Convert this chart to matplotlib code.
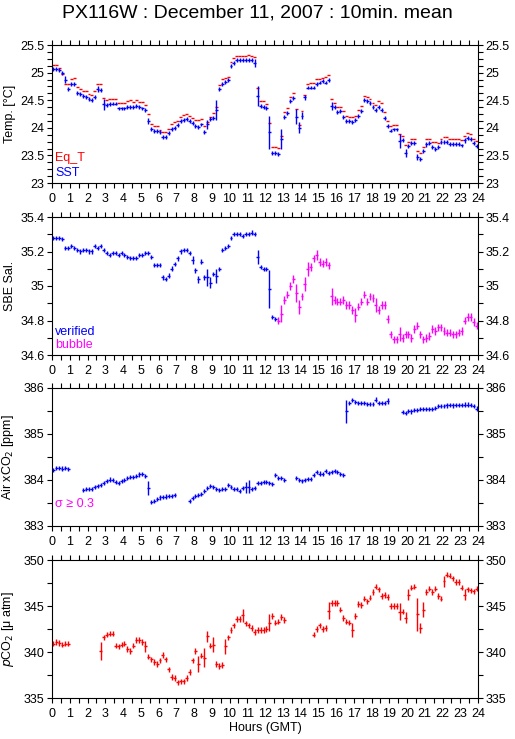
import numpy as np
import matplotlib.pyplot as plt
from matplotlib.ticker import MultipleLocator, FuncFormatter

plt.rcParams['font.family'] = ['Liberation Sans', 'DejaVu Sans']
plt.rcParams['axes.linewidth'] = 0.8

nan = np.nan

# 10-minute means, 6 values per hour (hh:00 .. hh:50)
sst = [
    25.06, 25.06, 25.04, 24.99, 24.87, 24.71,
    24.80, 24.80, 24.63, 24.62, 24.58, 24.56,
    24.52, 24.50, 24.56, 24.70, 24.68, 24.43,
    24.42, 24.43, 24.44, 24.44, 24.35, 24.35,
    24.35, 24.38, 24.38, 24.38, 24.40, 24.37,
    24.35, 24.32, 24.12, 23.98, 23.94, 23.94,
    23.93, 23.83, 23.83, 23.90, 23.98, 23.99,
    24.05, 24.12, 24.14, 24.16, 24.12, 24.08,
    24.04, 24.02, 24.06, 23.93, 24.06, 24.16,
    24.18, 24.33, 24.71, 24.80, 24.83, 24.86,
    25.12, 25.18, 25.23, 25.23, 25.23, 25.23,
    25.23, 25.23, 25.17, 24.58, 24.39, 24.38,
    24.36, 23.92, 23.55, 23.55, 23.53, 23.80,
    24.20, 24.27, 24.48, 24.54, 24.20, 24.00,
    24.22, 24.55, 24.73, 24.73, 24.73, 24.80,
    24.82, 24.85, 24.82, 24.87, 24.40, 24.37,
    24.28, 24.30, 24.20, 24.12, 24.12, 24.11,
    24.14, 24.22, 24.30, 24.50, 24.48, 24.45,
    24.38, 24.32, 24.38, 24.32, 24.18, 24.03,
    23.95, 23.97, 23.97, 23.76, 23.78, 23.55,
    23.67, 23.73, 23.73, 23.47, 23.44, 23.58,
    23.70, 23.73, 23.66, 23.62, 23.66, 23.74,
    23.75, 23.75, 23.71, 23.71, 23.71, 23.71,
    23.68, 23.77, 23.82, 23.80, 23.72, 23.67,
]
sst_err_big = {0.67: 0.06, 2.5: 0.06, 2.83: 0.1, 5.33: 0.06, 8.67: 0.08,
               9.17: 0.18, 11.33: 0.07, 11.5: 0.18, 12.17: 0.3, 12.83: 0.18,
               13.67: 0.14, 13.83: 0.1, 14.0: 0.06, 14.17: 0.05, 15.67: 0.07,
               19.5: 0.12, 19.83: 0.07, 20.5: 0.05, 21.0: 0.05, 23.17: 0.04}

eq_t = [
    25.14, 25.14, 25.09, 24.97, 24.80, 24.80,
    24.89, 24.90, 24.74, 24.71, 24.67, 24.67,
    24.62, 24.60, 24.66, 24.79, 24.79, 24.54,
    24.51, 24.52, 24.53, 24.52, 24.45, 24.45,
    24.45, 24.48, 24.50, 24.47, 24.50, 24.47,
    24.47, 24.42, 24.25, 24.07, 24.03, 24.03,
    23.96, 23.93, 23.92, 23.97, 24.07, 24.10,
    24.13, 24.20, 24.23, 24.25, 24.22, 24.17,
    24.14, 24.14, 24.16, 24.03, 24.10, 24.20,
    24.27, 24.37, 24.78, 24.88, 24.90, 24.92,
    25.19, 25.27, 25.30, 25.30, 25.30, 25.30,
    25.31, 25.30, 25.28, 24.72, 24.48, 24.48,
    24.43, 24.08, 23.66, 23.65, 23.63, 23.85,
    24.28, 24.35, 24.55, 24.63, 24.34, 24.05,
    24.30, 24.60, 24.80, 24.82, 24.82, 24.88,
    24.88, 24.90, 24.92, 24.95, 24.52, 24.45,
    24.37, 24.37, 24.30, 24.22, 24.20, 24.20,
    24.22, 24.32, 24.40, 24.57, 24.56, 24.53,
    24.45, 24.42, 24.48, 24.45, 24.28, 24.12,
    24.04, 24.05, 24.05, 23.88, 23.85, 23.68,
    23.74, 23.80, 23.80, 23.58, 23.54, 23.65,
    23.79, 23.80, 23.74, 23.74, 23.72, 23.80,
    23.83, 23.83, 23.80, 23.79, 23.79, 23.79,
    23.78, 23.85, 23.90, 23.88, 23.80, 23.76,
]

sal = [
    35.28, 35.28, 35.28, 35.27, 35.22, 35.22,
    35.23, 35.22, 35.21, 35.20, 35.21, 35.21,
    35.20, 35.20, 35.23, 35.22, 35.23, 35.21,
    35.19, 35.18, 35.19, 35.19, 35.18, 35.19,
    35.18, 35.17, 35.16, 35.16, 35.16, 35.18,
    35.18, 35.19, 35.19, 35.17, 35.12, 35.12,
    35.12, 35.05, 35.04, 35.06, 35.10, 35.13,
    35.16, 35.20, 35.21, 35.21, 35.19, 35.15,
    35.09, 35.04, 35.14, 35.05, 35.05, 35.02,
    35.07, 35.06, 35.10, 35.21, 35.22, 35.23,
    35.28, 35.30, 35.30, 35.30, 35.29, 35.30,
    35.30, 35.31, 35.30, 35.17, 35.11, 35.10,
    35.10, 34.98, 34.82, 34.81, 34.80, 34.84,
    34.92, 34.95, 35.00, 35.04, 34.96, 34.88,
    34.94, 35.01, 35.10, 35.11, 35.16, 35.18,
    35.14, 35.13, 35.14, 35.12, 34.94, 34.92,
    34.91, 34.91, 34.92, 34.89, 34.89, 34.86,
    34.83, 34.88, 34.91, 34.95, 34.91, 34.94,
    34.93, 34.89, 34.86, 34.89, 34.89, 34.81,
    34.72, 34.69, 34.69, 34.72, 34.70, 34.72,
    34.72, 34.70, 34.75, 34.77, 34.72, 34.69,
    34.70, 34.71, 34.75, 34.74, 34.76, 34.76,
    34.74, 34.73, 34.73, 34.72, 34.72, 34.73,
    34.74, 34.80, 34.82, 34.82, 34.79, 34.77,
]
sal_bubble_from = 12.6  # hours; later records flagged "bubble"
sal_err_big = {6.17: 0.015, 6.5: 0.015, 6.67: 0.015, 7.0: 0.015, 7.83: 0.025,
               8.0: 0.015, 8.17: 0.02, 8.33: 0.015, 8.5: 0.015, 8.67: 0.05,
               8.83: 0.03, 9.17: 0.04, 11.5: 0.04, 12.17: 0.11,
               12.83: 0.05, 13.67: 0.05, 13.83: 0.04, 14.17: 0.04, 14.33: 0.04,
               14.83: 0.03, 15.67: 0.05, 17.0: 0.04, 18.17: 0.04, 19.5: 0.04}

air_co2 = [
    384.22, 384.27, 384.26, 384.25, 384.27, 384.24,
    nan, nan, nan, nan, 383.79, 383.81,
    383.80, 383.81, 383.84, 383.87, 383.90, 383.93,
    383.98, 384.01, 384.00, 383.95, 383.94, 383.97,
    384.00, 384.05, 384.07, 384.06, 384.08, 384.12,
    384.13, 384.08, 383.82, 383.52, 383.55, 383.59,
    383.62, 383.63, 383.64, 383.65, 383.66, 383.67,
    nan, nan, nan, nan, 383.55, 383.60,
    383.65, 383.68, 383.69, 383.76, 383.83, 383.87,
    383.85, 383.81, 383.79, 383.80, 383.80, 383.90,
    383.84, 383.80, 383.80, 383.76, 383.82, 383.84,
    383.85, 383.80, 383.82, 383.94, 383.93, 383.95,
    383.95, 383.94, 383.91, 384.10, 384.05, 384.05,
    384.00, nan, nan, nan, 384.04, 384.00,
    383.98, 384.00, 384.02, 384.02, 384.10, 384.18,
    384.14, 384.13, 384.20, 384.16, 384.17, 384.20,
    384.17, 384.13, 384.10, 385.50, 385.68, 385.73,
    385.70, 385.68, 385.67, 385.67, 385.66, 385.66,
    385.66, 385.75, 385.67, 385.67, 385.67, 385.72,
    nan, nan, nan, nan, 385.47, 385.46,
    385.50, 385.49, 385.53, 385.53, 385.55, 385.54,
    385.54, 385.55, 385.55, 385.57, 385.60, 385.60,
    385.60, 385.62, 385.63, 385.62, 385.63, 385.63,
    385.63, 385.64, 385.64, 385.63, 385.60, 385.55,
]
air_err_big = {5.33: 0.15, 10.83: 0.12, 11.0: 0.14, 16.5: 0.25,
               18.83: 0.07, 23.83: 0.06}

pco2 = [
    340.9, 341.1, 341.0, 340.8, 340.9, 340.9,
    nan, nan, nan, nan, nan, nan,
    nan, nan, nan, nan, 340.1, 341.6,
    341.9, 342.0, 342.0, 340.7, 340.6, 340.8,
    340.9, 340.3, 340.1, 340.7, 341.3, 341.3,
    341.1, 340.6, 339.5, 339.2, 338.9, 338.7,
    339.1, 339.7, 339.2, 338.1, 337.3, 337.2,
    336.7, 336.8, 336.8, 337.2, 337.8, 339.1,
    340.1, 338.7, 339.6, 339.4, 341.7, 340.7,
    340.8, 338.7, 338.5, 338.6, 340.6, 341.6,
    342.4, 342.9, 343.6, 343.6, 344.0, 343.1,
    342.9, 342.6, 342.2, 342.4, 342.4, 342.4,
    342.5, 343.2, 343.9, 343.2, 343.3, 343.8,
    343.5, nan, nan, nan, nan, nan,
    nan, nan, nan, nan, 341.9, 342.5,
    342.9, 342.5, 342.6, 344.5, 345.3, 345.3,
    345.3, 344.6, 343.7, 343.3, 343.2, 342.4,
    343.9, 345.2, 345.1, 345.8, 345.5, 345.9,
    346.5, 347.1, 346.8, 346.1, 346.2, 346.0,
    345.0, 345.0, 345.0, 344.4, 344.4, 343.7,
    346.2, 347.0, 347.1, 344.1, 342.6, 344.6,
    346.5, 346.9, 346.5, 346.9, 346.1, 345.8,
    347.7, 348.4, 348.3, 348.0, 347.6, 347.6,
    347.0, 346.2, 346.8, 346.7, 346.6, 346.9,
]
pco2_err_big = {2.67: 1.0, 5.17: 0.6, 8.17: 0.9, 8.5: 1.0, 8.67: 0.6,
                9.0: 0.8, 9.67: 0.8, 10.67: 0.7, 12.17: 0.9, 15.5: 0.9,
                16.83: 0.8, 19.5: 0.9, 19.83: 0.6, 20.0: 0.6, 20.5: 1.8,
                20.67: 0.5, 20.83: 0.8, 22.0: 0.6, 23.17: 0.6}

t = np.arange(144) / 6.0 + 1.0 / 12.0
half = 1.0 / 12.0
LW = 1.0


def err_array(default, big):
    e = np.full(144, default)
    for h, v in big.items():
        e[int(round(h * 6))] = max(v, default)
    return e


def style(ax, ylim, major, minor):
    ax.set_xlim(0, 24)
    ax.set_ylim(*ylim)
    ax.xaxis.set_major_locator(MultipleLocator(1))
    ax.xaxis.set_minor_locator(MultipleLocator(0.5))
    ax.yaxis.set_major_locator(MultipleLocator(major))
    ax.yaxis.set_minor_locator(MultipleLocator(minor))
    ax.yaxis.set_major_formatter(FuncFormatter(lambda v, p: "%g" % round(v, 3)))
    ax.tick_params(which='both', direction='out', length=3.5, width=0.8,
                   top=True, right=True, labelright=True, labelsize=9, pad=2)
    ax.tick_params(axis='x', pad=4)


fig = plt.figure(figsize=(5.15, 7.39), dpi=100)
left, width, height = 52 / 515, 426 / 515, 138 / 739
bottoms = [1 - 183 / 739, 1 - 355 / 739, 1 - 526 / 739, 1 - 698 / 739]
axes = [fig.add_axes([left, b, width, height]) for b in bottoms]

fig.text(0.5, 1 - 13 / 739, "PX116W : December 11, 2007 : 10min. mean",
         ha='center', va='center', fontsize=14)

# Temperature
ax = axes[0]
ax.errorbar(t, eq_t, xerr=half, fmt='none', ecolor='#ff0000', elinewidth=LW)
ax.errorbar(t, sst, xerr=half, yerr=err_array(0.035, sst_err_big), fmt='none',
            ecolor='#0000ff', elinewidth=LW)
style(ax, (23, 25.5), 0.5, 0.125)
ax.set_ylabel("Temp. [°C]", fontsize=9)
ax.text(0.008, 0.18, "Eq_T", color='#ff0000', fontsize=9, transform=ax.transAxes, va='center')
ax.text(0.008, 0.075, "SST", color='#0000ff', fontsize=9, transform=ax.transAxes, va='center')

# Salinity
ax = axes[1]
sal_a = np.array(sal)
ver = t < sal_bubble_from
ax.errorbar(t[ver], sal_a[ver], xerr=half, yerr=err_array(0.012, sal_err_big)[ver],
            fmt='none', ecolor='#0000ff', elinewidth=LW)
ax.errorbar(t[~ver], sal_a[~ver], xerr=half, yerr=err_array(0.022, sal_err_big)[~ver],
            fmt='none', ecolor='#ff00ff', elinewidth=LW)
style(ax, (34.6, 35.4), 0.2, 0.1)
ax.set_ylabel("SBE Sal.", fontsize=9)
ax.text(0.008, 0.17, "verified", color='#0000ff', fontsize=9, transform=ax.transAxes, va='center')
ax.text(0.008, 0.072, "bubble", color='#ff00ff', fontsize=9, transform=ax.transAxes, va='center')

# Air xCO2
ax = axes[2]
ax.errorbar(t, air_co2, xerr=half, yerr=err_array(0.045, air_err_big), fmt='none',
            ecolor='#0000ff', elinewidth=LW)
style(ax, (383, 386), 1, 0.5)
ax.set_ylabel("Air xCO$_2$ [ppm]", fontsize=9)
ax.text(0.008, 0.16, "σ ≥ 0.3", color='#ff00ff', fontsize=9, transform=ax.transAxes, va='center')

# pCO2
ax = axes[3]
ax.errorbar(t, pco2, xerr=half, yerr=err_array(0.3, pco2_err_big), fmt='none',
            ecolor='#ff0000', elinewidth=LW)
style(ax, (335, 350), 5, 2.5)
ax.set_ylabel("$\\it{p}$CO$_2$ [μ atm]", fontsize=9)
ax.set_xlabel("Hours (GMT)", fontsize=9, labelpad=1)

for ax in axes:
    ax.yaxis.set_label_coords(-0.085, 0.5)

fig.savefig("out.png", dpi=100)
